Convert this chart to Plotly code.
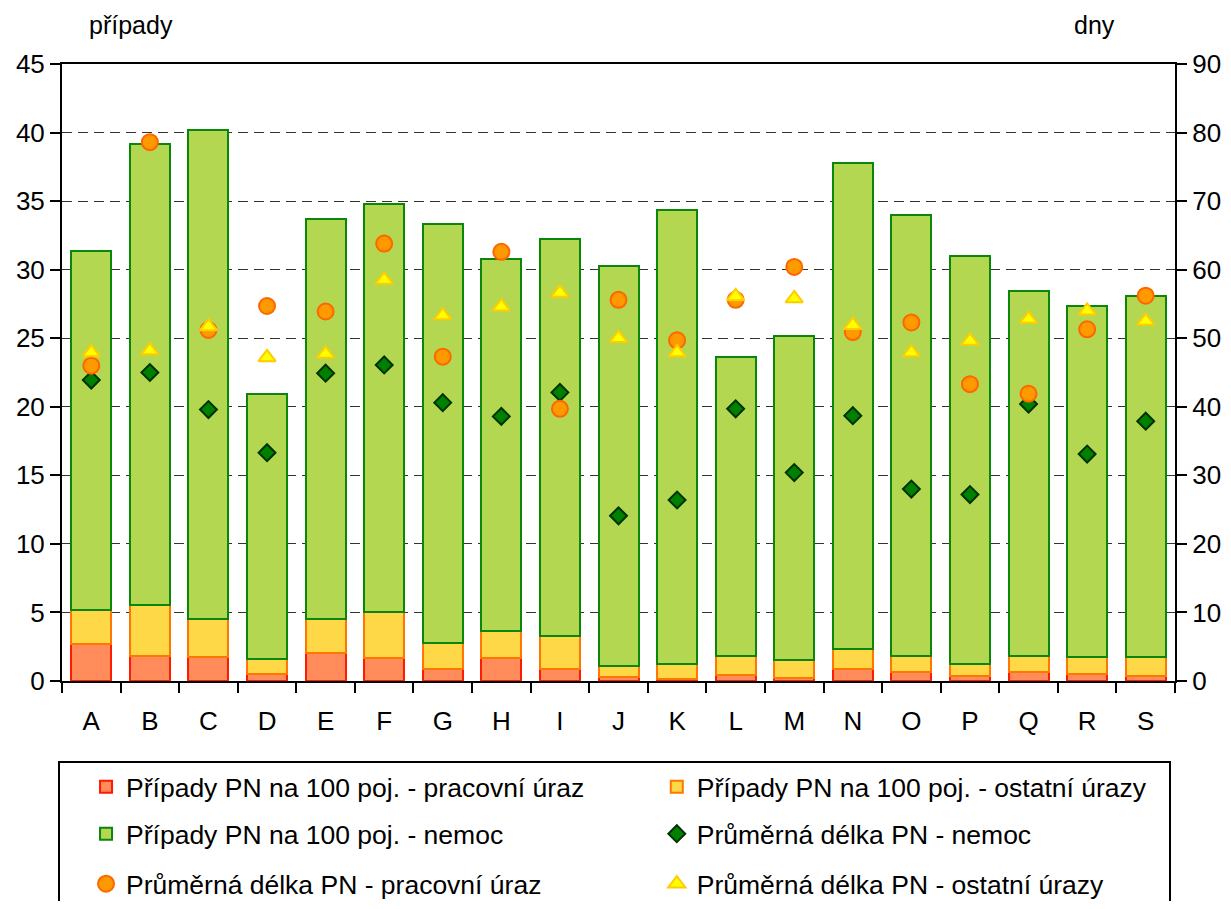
import plotly.graph_objects as go

categories = ["A","B","C","D","E","F","G","H","I","J","K","L","M","N","O","P","Q","R","S"]

# left axis: cases per 100 insured
pripady_pracovni = [2.70,1.82,1.75,0.50,2.04,1.68,0.88,1.68,0.88,0.30,0.15,0.44,0.22,0.88,0.66,0.36,0.66,0.51,0.36]
pripady_ostatni  = [2.48,3.72,2.77,1.10,2.48,3.35,1.89,1.97,2.40,0.79,1.09,1.38,1.31,1.45,1.16,0.88,1.16,1.24,1.39]
pripady_nemoc    = [26.18,33.63,35.67,19.33,29.18,29.76,30.56,27.10,28.96,29.15,33.10,21.80,23.63,35.42,32.20,29.78,26.63,25.62,26.33]

# right axis: average duration in days
delka_nemoc    = [43.9,45.0,39.6,33.3,44.9,46.1,40.6,38.6,42.1,24.1,26.4,39.7,30.4,38.7,28.0,27.2,40.4,33.1,37.9]
delka_pracovni = [46.0,78.6,51.2,54.7,53.9,63.8,47.3,62.6,39.7,55.6,49.7,55.6,60.4,50.9,52.3,43.3,41.9,51.3,56.2]
delka_ostatni  = [47.9,48.2,51.7,47.2,47.7,58.5,53.3,54.6,56.6,50.0,47.9,56.1,55.8,51.9,47.9,49.6,52.8,54.0,52.5]

left_ticks = [0,5,10,15,20,25,30,35,40,45]
right_ticks = [0,10,20,30,40,50,60,70,80,90]

FONT = "Liberation Sans, Arial, sans-serif"

fig = go.Figure()
fig.add_trace(go.Bar(x=categories, y=pripady_pracovni, name="Případy PN na 100 poj. - pracovní úraz",
                     marker=dict(color="#ff8c5a", line=dict(color="#ff1a00", width=2)), legend="legend"))
fig.add_trace(go.Bar(x=categories, y=pripady_ostatni, name="Případy PN na 100 poj. - ostatní úrazy",
                     marker=dict(color="#ffd848", line=dict(color="#ff7700", width=2)), legend="legend2"))
fig.add_trace(go.Bar(x=categories, y=pripady_nemoc, name="Případy PN na 100 poj. - nemoc",
                     marker=dict(color="#b4d752", line=dict(color="#0a860a", width=2)), legend="legend3"))
fig.add_trace(go.Scatter(x=categories, y=delka_nemoc, name="Průměrná délka PN - nemoc", mode="markers",
                         yaxis="y2", legend="legend4",
                         marker=dict(symbol="diamond", size=13, color="#008000", line=dict(color="#003300", width=2))))
fig.add_trace(go.Scatter(x=categories, y=delka_pracovni, name="Průměrná délka PN - pracovní úraz", mode="markers",
                         yaxis="y2", legend="legend5",
                         marker=dict(symbol="circle", size=16, color="#ff9900", line=dict(color="#ff6600", width=2))))
fig.add_trace(go.Scatter(x=categories, y=delka_ostatni, name="Průměrná délka PN - ostatní úrazy", mode="markers",
                         yaxis="y2", legend="legend6",
                         marker=dict(symbol="triangle-up", size=15, color="#ffff00", line=dict(color="#ffcc00", width=2))))

COL1 = 0.0216
COL2 = 0.5344

def leg(xp, ypix):
    return dict(orientation="v", x=xp, xanchor="left", y=(681 - ypix) / 617, yanchor="middle",
                bgcolor="rgba(0,0,0,0)", borderwidth=0,
                font=dict(family=FONT, size=26.5, color="black"))

fig.update_layout(
    width=1215, height=893,
    margin=dict(l=54, r=48, t=56, b=220, autoexpand=False),
    paper_bgcolor="white", plot_bgcolor="white",
    barmode="stack", bargap=0.317,
    font=dict(family=FONT, size=26, color="black"),
    xaxis=dict(type="category", range=[-0.5, 18.5], showline=True, linecolor="black", linewidth=2, mirror=True,
               ticks="outside", tickson="boundaries", ticklen=10, tickwidth=2, tickcolor="black",
               ticklabelstandoff=16, tickfont=dict(family=FONT, size=26), showgrid=False),
    yaxis=dict(range=[0, 45], tickvals=left_ticks, showline=True, linecolor="black", linewidth=2,
               ticks="outside", ticklen=10, tickwidth=2, tickcolor="black", ticklabelstandoff=0,
               showgrid=True, gridcolor="#333333", gridwidth=1, griddash="10px,6px", zeroline=False),
    yaxis2=dict(range=[0, 90], tickvals=right_ticks, overlaying="y", side="right", showline=True,
                linecolor="black", linewidth=2, ticks="outside", ticklen=10, tickwidth=2, tickcolor="black",
                ticklabelstandoff=0, showgrid=False, zeroline=False),
    legend=leg(COL1, 787), legend2=leg(COL2, 787),
    legend3=leg(COL1, 834), legend4=leg(COL2, 834),
    legend5=leg(COL1, 884), legend6=leg(COL2, 884),
    showlegend=True,
)

fig.add_shape(type="rect", xref="paper", yref="paper",
              x0=(59 - 62) / 1113, x1=(1170 - 62) / 1113,
              y0=(681 - 762) / 617, y1=(681 - 930) / 617,
              line=dict(color="black", width=2), fillcolor="rgba(0,0,0,0)", layer="below")

fig.add_annotation(text="případy", xref="paper", yref="paper", x=(131 - 62) / 1113, y=(681 - 25) / 617,
                   showarrow=False, xanchor="center", yanchor="middle", font=dict(family=FONT, size=25))
fig.add_annotation(text="dny", xref="paper", yref="paper", x=(1094 - 62) / 1113, y=(681 - 25) / 617,
                   showarrow=False, xanchor="center", yanchor="middle", font=dict(family=FONT, size=25))

fig.write_html("out.html")
